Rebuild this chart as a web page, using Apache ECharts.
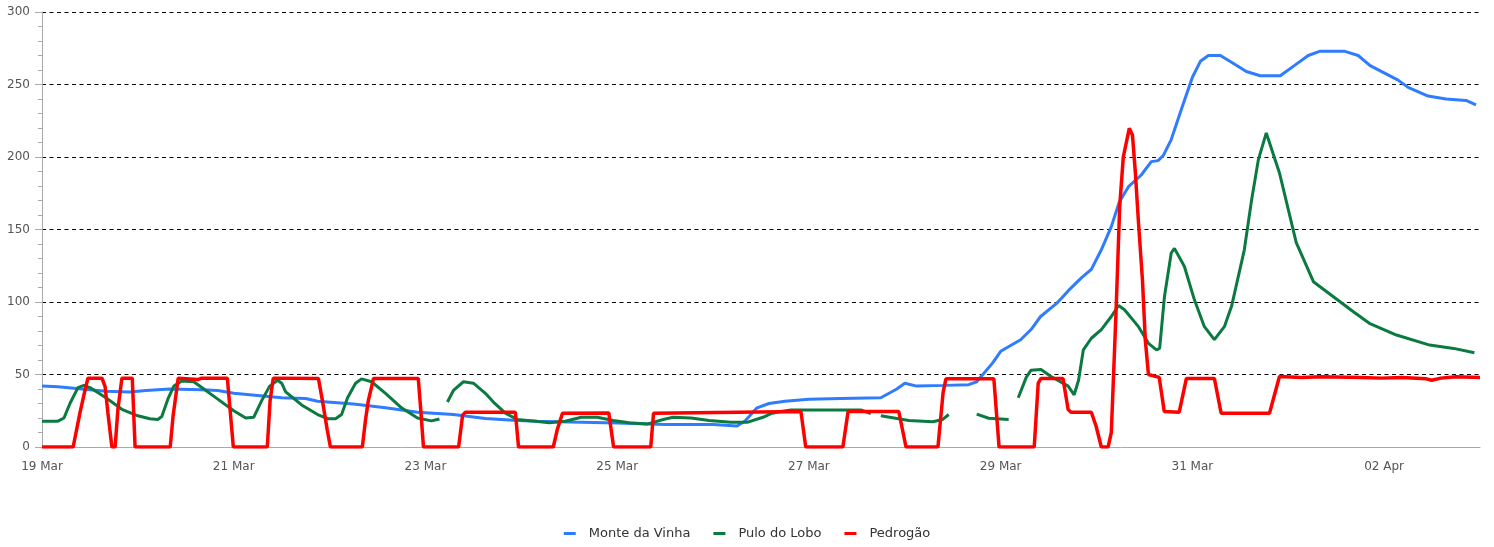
<!DOCTYPE html>
<html>
<head>
<meta charset="utf-8">
<script src="https://cdn.jsdelivr.net/npm/echarts@6/dist/echarts.min.js"></script>
<style>
html,body{margin:0;padding:0;background:#fff;}
#chart{width:1494px;height:547px;}
</style>
</head>
<body>
<div id="chart"></div>
<script>
// x values are hours after 19 Mar 00:00; null marks a gap in the record
const xTickLabels = ['19 Mar','21 Mar','23 Mar','25 Mar','27 Mar','29 Mar','31 Mar','02 Apr'];
const yTicks = [0, 50, 100, 150, 200, 250, 300];
const seriesNames = ['Monte da Vinha', 'Pulo do Lobo', 'Pedrogão'];

const monteDaVinha = [
  [0,42],[4,41.5],[8,40.5],[16,38.5],[22,38],[26,39],[32,40],[40,39.5],[44,39],[48,37],
  [54,35.5],[60,34],[66,33.5],[69,31.5],[78,29.7],[86,27],[94,24],[103,22.4],[111,19.6],
  [119,18.3],[124,17.8],[132,17.2],[144,16.5],[156,15.5],[168,15.5],[174,14.5],[176,18],
  [179,27],[182,30],[186,31.5],[192,33],[200,33.5],[210,34],[214,40],[216,44],[219,42],
  [226,42.5],[232,43],[234,45],[238,58],[240,66],[245,74],[247.6,81],[250,90],[254,99],
  [257,108],[260.2,116.6],[262.7,122.5],[265.2,136],[267.7,152],[269.7,169],[272,179.5],
  [275.2,187.6],[277.7,196.8],[279.4,197.5],[280.7,201],[282.7,212],
  [285.5,235],[288,255],[290,266],[292,270],[295,270],[298,265],[301.5,259],[305,256],
  [310,256],[313.5,263],[317,270],[320,273],[326,273],[329.5,270],[332.5,263],[336,258],
  [339.5,253],[342,248],[347,242],[351.5,240],[356.5,239],[359,236]
];

const puloDoLobo = [
  [0,17.8],[4,17.8],[5.5,20],[7,30],[9,41],[10.5,42.5],[12,41],[16,34],[20,26],[24,21.5],
  [27,19.5],[29,19],[30,21],[31.5,33],[33,42],[35,45.5],[38,45],[40,41],[44,33],[48,25],
  [51,20],[53,20.5],[55,32],[57,42],[59,46],[60,44],[61,38],[65,29],[69,22.4],[71.5,19.5],
  [73.5,19.5],[75,22.4],[76.5,34],[78.5,44],[80,47],[82.5,45],[86,37],[90,27],[94,20],
  [97.5,18],[99.5,19.3],[100.5,null],[101.5,31],[103,39],[105.5,45],[108,44],[111,37],
  [113,31],[116,23.3],[119,19],[123.5,17.8],[127,16.7],[131,17.8],[135,20.5],[139,20.5],
  [143,18.3],[147,16.7],[151.5,15.8],[155.5,19],[158,20.5],[162.5,20],[167,18.3],[172.5,17],
  [176.5,17],[180.5,20.5],[182.5,23],[185,24.5],[187.5,25.5],[205,25.5],[207.5,23],
  [208.5,null],[210,21.5],[217,18.3],[223,17.4],[225.5,19],[227,22.4],[228,null],[234,22.7],
  [237,19.8],[242,19],[243,null],[244.4,34],[246.4,48],[247.6,53],[250.1,53.5],[252.6,48.6],
  [256.9,42],[258.4,36],[259.5,46],[260.7,67],[262.7,75],[265.2,81],[267.7,90],[269.5,97.6],
  [271,94.6],[274.5,83],[277,71.5],[279,67],[279.8,68],[281,103.6],[282.7,133.8],[283.5,137],
  [286,124.5],[288.5,101.5],[291,83],[293.5,74],[296,83],[297.8,97],[301,136],[302.8,170],
  [304.5,198],[306.5,216.6],[309.8,189],[314,141],[318.3,114],[323.3,103.6],[328.3,93.3],
  [332.3,85.3],[339.1,77.2],[347.4,70.3],[353.4,68],[358.6,65]
];

const pedrogao = [
  [0,0],[7.8,0],[9.5,23.5],[10.8,39.6],[11.5,47.5],[15,47.5],[15.8,41.6],[16.5,23.5],[17.5,0],
  [18.3,0],[19,25.8],[20,47.5],[22.6,47.5],[23.3,0],[32.1,0],[32.8,21],[34.1,47.5],[39,46.5],
  [40,47.5],[46.4,47.5],[47.9,0],[56.4,0],[57.1,32],[57.9,47.5],[69.2,47.3],[70.2,32],
  [71.4,12],[72.2,0],[80.2,0],[81,19],[81.7,32],[83,47.3],[94.2,47.3],[94.7,30],[95.5,0],
  [104.3,0],[105.3,22],[106,24],[118.5,24],[119.3,0],[128,0],[129,12],[130.3,23.3],
  [141.9,23.5],[143.1,0],[152.4,0],[153.1,23.3],[190,24.4],[191.2,0],[200.5,0],[201.8,24.4],
  [214.5,24.4],[216.3,0],[224.3,0],[225.6,37.8],[226.3,47],[238.3,47],[239.6,0],[248.4,0],
  [249.4,44],[250.1,47.3],[255.6,47.3],[256.9,25.8],[257.6,24],[262.7,24],[263.9,14.3],
  [265.2,0],[266.9,0],[267.7,10],[268.9,94.6],[269.8,166],[270.7,200],[272.2,219.8],
  [273,215],[273.7,190],[274.5,155],[275.5,115],[276.2,74],[277,50],[279.7,48],[280.95,24.4],
  [284.7,24],[286.5,47.3],[293.5,47.3],[295.2,23.3],[307.3,23.3],[309.8,48.6],[315.3,48],
  [320.3,48.5],[330.3,48],[335.3,47.5],[340.4,48],[346.6,47],[347.9,46],[350.2,47.5],
  [354,48.5],[360,48]
];

function prep(arr){ return arr.map(p => [p[0], p[1] === null ? '-' : p[1]]); }

const chart = echarts.init(document.getElementById('chart'), null, {renderer:'canvas'});
const font = 'DejaVu Sans';
chart.setOption({
  animation: false,
  backgroundColor: '#fff',
  grid: {left: 42, right: 14, top: 12, bottom: 100},
  legend: {
    data: seriesNames,
    bottom: 2,
    left: 'center',
    icon: 'rect',
    itemWidth: 12,
    itemHeight: 3,
    itemGap: 23,
    textStyle: {fontFamily: font, fontSize: 13, color: '#333', padding: [0,0,0,8]}
  },
  xAxis: {
    type: 'value',
    min: 0, max: 360, interval: 48,
    axisLine: {show: true, lineStyle: {color: '#aaa', width: 1}},
    axisTick: {show: false},
    splitLine: {show: false},
    axisLabel: {
      fontFamily: font, fontSize: 12, color: '#555', margin: 14,
      formatter: v => xTickLabels[v / 48] || ''
    }
  },
  yAxis: {
    type: 'value',
    min: yTicks[0], max: yTicks[yTicks.length - 1], interval: 50,
    axisLine: {show: true, lineStyle: {color: '#aaa', width: 1}},
    axisTick: {show: true, length: 7, lineStyle: {color: '#aaa'}},
    minorTick: {show: true, splitNumber: 5, length: 4, lineStyle: {color: '#aaa'}},
    splitLine: {show: true, lineStyle: {color: '#000', type: [4, 3.5], width: 1}},
    axisLabel: {fontFamily: font, fontSize: 12, color: '#555', margin: 12}
  },
  series: [
    {name: seriesNames[0], type: 'line', data: prep(monteDaVinha), showSymbol: false, symbol: 'none',
     color: '#2f7cff', lineStyle: {width: 3, color: '#2f7cff'}},
    {name: seriesNames[1], type: 'line', data: prep(puloDoLobo), showSymbol: false, symbol: 'none',
     color: '#0b7a40', lineStyle: {width: 3, color: '#0b7a40'}},
    {name: seriesNames[2], type: 'line', data: prep(pedrogao), showSymbol: false, symbol: 'none',
     color: '#ff0000', lineStyle: {width: 3.5, color: '#ff0000'}}
  ]
});
</script>
</body>
</html>
